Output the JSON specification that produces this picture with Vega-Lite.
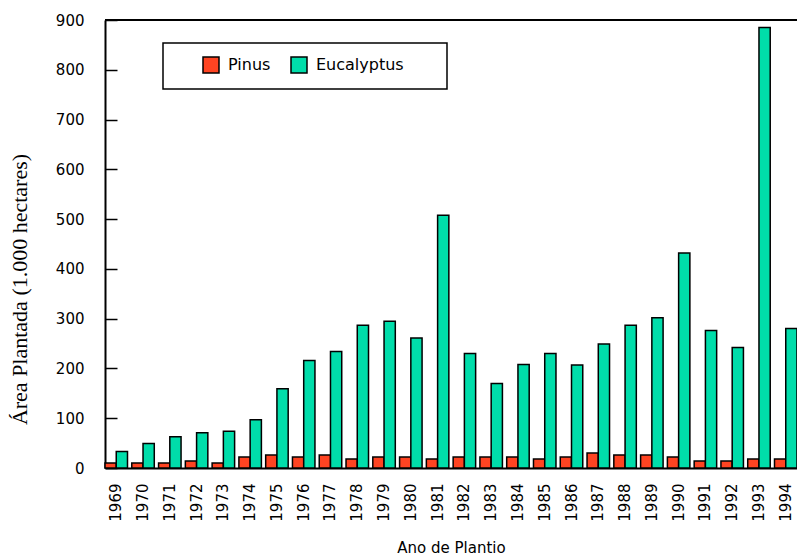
{
  "$schema": "https://vega.github.io/schema/vega-lite/v6.json",
  "width": 692,
  "height": 448,
  "autosize": {"type": "none"},
  "padding": {"left": 105, "top": 20, "right": 0, "bottom": 90},
  "background": "white",
  "config": {"view": {"stroke": null}, "font": "DejaVu Sans"},
  "data": {
    "values": [
      {"year": "1969", "species": "Pinus", "area": 10}, {"year": "1969", "species": "Eucalyptus", "area": 33},
      {"year": "1970", "species": "Pinus", "area": 10}, {"year": "1970", "species": "Eucalyptus", "area": 49},
      {"year": "1971", "species": "Pinus", "area": 10}, {"year": "1971", "species": "Eucalyptus", "area": 63},
      {"year": "1972", "species": "Pinus", "area": 14}, {"year": "1972", "species": "Eucalyptus", "area": 71},
      {"year": "1973", "species": "Pinus", "area": 10}, {"year": "1973", "species": "Eucalyptus", "area": 74},
      {"year": "1974", "species": "Pinus", "area": 22}, {"year": "1974", "species": "Eucalyptus", "area": 97},
      {"year": "1975", "species": "Pinus", "area": 26}, {"year": "1975", "species": "Eucalyptus", "area": 159},
      {"year": "1976", "species": "Pinus", "area": 22}, {"year": "1976", "species": "Eucalyptus", "area": 216},
      {"year": "1977", "species": "Pinus", "area": 26}, {"year": "1977", "species": "Eucalyptus", "area": 234},
      {"year": "1978", "species": "Pinus", "area": 18}, {"year": "1978", "species": "Eucalyptus", "area": 287},
      {"year": "1979", "species": "Pinus", "area": 22}, {"year": "1979", "species": "Eucalyptus", "area": 295},
      {"year": "1980", "species": "Pinus", "area": 22}, {"year": "1980", "species": "Eucalyptus", "area": 261},
      {"year": "1981", "species": "Pinus", "area": 18}, {"year": "1981", "species": "Eucalyptus", "area": 508},
      {"year": "1982", "species": "Pinus", "area": 22}, {"year": "1982", "species": "Eucalyptus", "area": 230},
      {"year": "1983", "species": "Pinus", "area": 22}, {"year": "1983", "species": "Eucalyptus", "area": 170},
      {"year": "1984", "species": "Pinus", "area": 22}, {"year": "1984", "species": "Eucalyptus", "area": 208},
      {"year": "1985", "species": "Pinus", "area": 18}, {"year": "1985", "species": "Eucalyptus", "area": 230},
      {"year": "1986", "species": "Pinus", "area": 22}, {"year": "1986", "species": "Eucalyptus", "area": 207},
      {"year": "1987", "species": "Pinus", "area": 30}, {"year": "1987", "species": "Eucalyptus", "area": 249},
      {"year": "1988", "species": "Pinus", "area": 26}, {"year": "1988", "species": "Eucalyptus", "area": 287},
      {"year": "1989", "species": "Pinus", "area": 26}, {"year": "1989", "species": "Eucalyptus", "area": 302},
      {"year": "1990", "species": "Pinus", "area": 22}, {"year": "1990", "species": "Eucalyptus", "area": 432},
      {"year": "1991", "species": "Pinus", "area": 14}, {"year": "1991", "species": "Eucalyptus", "area": 276},
      {"year": "1992", "species": "Pinus", "area": 14}, {"year": "1992", "species": "Eucalyptus", "area": 242},
      {"year": "1993", "species": "Pinus", "area": 18}, {"year": "1993", "species": "Eucalyptus", "area": 885},
      {"year": "1994", "species": "Pinus", "area": 18}, {"year": "1994", "species": "Eucalyptus", "area": 280}
    ]
  },
  "layer": [
    {
      "mark": {"type": "bar", "stroke": "black", "strokeWidth": 1.5},
      "encoding": {
        "x": {
          "field": "year", "type": "nominal",
          "scale": {"paddingInner": 0.16, "paddingOuter": 0},
          "axis": {
            "title": "Ano de Plantio", "labelAngle": 270, "ticks": false, "labelPadding": 15,
            "labelFontSize": 15, "labelColor": "black", "domainColor": "black", "domainWidth": 2,
            "titleFontSize": 15, "titleFontWeight": "normal", "titleColor": "black",
            "titleY": 72, "titleBaseline": "top"
          }
        },
        "xOffset": {"field": "species", "type": "nominal", "sort": ["Pinus", "Eucalyptus"], "scale": {"paddingInner": 0, "paddingOuter": 0}},
        "y": {
          "field": "area", "type": "quantitative",
          "scale": {"domain": [0, 900], "nice": false},
          "axis": {
            "title": "Área Plantada (1.000 hectares)",
            "values": [0, 100, 200, 300, 400, 500, 600, 700, 800, 900],
            "grid": false, "tickSize": -12, "tickColor": "black", "tickWidth": 1.5,
            "labelPadding": 33, "labelFontSize": 15, "labelColor": "black",
            "domainColor": "black", "domainWidth": 2,
            "titleFont": "Liberation Serif", "titleFontSize": 22, "titleFontWeight": "normal", "titleColor": "black",
            "titleX": -86, "titleY": 269, "titleAlign": "center", "titleBaseline": "middle", "titleAngle": 270
          }
        },
        "color": {
          "field": "species", "type": "nominal",
          "scale": {"domain": ["Pinus", "Eucalyptus"], "range": ["#ff4422", "#00ddaa"]},
          "legend": {
            "orient": "none", "legendX": 58, "legendY": 23, "direction": "horizontal",
            "title": "\u00a0", "titleOrient": "right", "titlePadding": 30,
            "strokeColor": "black", "fillColor": "white", "padding": 13,
            "symbolType": "square", "symbolSize": 256, "symbolStrokeColor": "black", "symbolStrokeWidth": 1.5,
            "symbolOffset": 26, "labelFontSize": 16, "labelColor": "black", "labelOffset": 8,
            "gridAlign": "none", "columnPadding": -7,
            "encode": {"legend": {"update": {"strokeWidth": {"value": 1.5}}}}
          }
        }
      }
    },
    {
      "mark": {"type": "rule", "color": "black", "strokeWidth": 1.5},
      "encoding": {"y": {"datum": 900}}
    }
  ]
}
